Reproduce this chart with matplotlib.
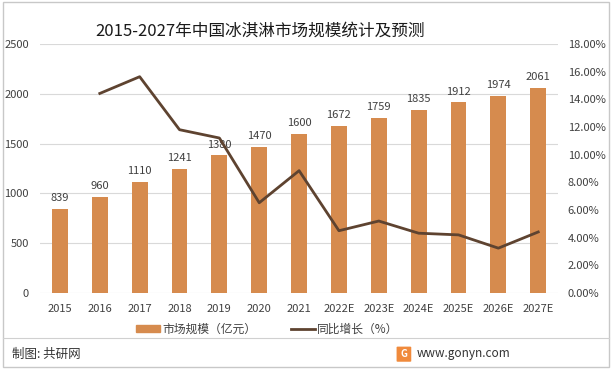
import matplotlib.pyplot as plt
from matplotlib.patches import Rectangle, FancyBboxPatch
from matplotlib.lines import Line2D
from matplotlib.ticker import FuncFormatter

plt.rcParams['font.family'] = ['Noto Sans CJK SC', 'DejaVu Sans']

years = ['2015', '2016', '2017', '2018', '2019', '2020', '2021',
         '2022E', '2023E', '2024E', '2025E', '2026E', '2027E']
market_size = [839, 960, 1110, 1241, 1380, 1470, 1600, 1672, 1759, 1835, 1912, 1974, 2061]
growth_years = years[1:]
growth_pct = [14.42, 15.63, 11.80, 11.20, 6.52, 8.84, 4.50, 5.20, 4.32, 4.20, 3.24, 4.41]

bar_color = '#D68B4E'
line_color = '#5E4330'
grid_color = '#D9D9D9'
text_color = '#404040'

fig = plt.figure(figsize=(6.12, 3.69), dpi=100)
ax = fig.add_axes([0.0654, 0.206, 0.8466, 0.675])

x = list(range(len(years)))
bars = ax.bar(x, market_size, width=0.4, color=bar_color, zorder=2)
for xi, v in zip(x, market_size):
    ax.text(xi, v + 60, str(v), ha='center', va='bottom', fontsize=8, color=text_color)

ax.set_xlim(-0.5, len(years) - 0.5)
ax.set_ylim(0, 2500)
ax.set_yticks(range(0, 2501, 500))
ax.set_xticks(x)
ax.set_xticklabels(years)
ax.grid(axis='y', color=grid_color, linewidth=0.8, zorder=0)
for s in ax.spines.values():
    s.set_visible(False)
ax.tick_params(axis='both', length=0, labelsize=8, colors=text_color)
ax.tick_params(axis='y', pad=8)
ax.tick_params(axis='x', pad=8)

ax2 = ax.twinx()
ax2.plot(x[1:], growth_pct, color=line_color, linewidth=2, zorder=3)
ax2.set_ylim(0, 18)
ax2.set_yticks(range(0, 19, 2))
ax2.yaxis.set_major_formatter(FuncFormatter(lambda v, p: f'{v:.2f}%'))
for s in ax2.spines.values():
    s.set_visible(False)
ax2.tick_params(axis='y', length=0, labelsize=8, colors=text_color, pad=7)

fig.text(0.425, 0.915, '2015-2027年中国冰淇淋市场规模统计及预测', ha='center', va='center',
         fontsize=12, color='#1a1a1a')

handles = [Rectangle((0, 0), 1, 1, color=bar_color),
           Line2D([0], [0], color=line_color, linewidth=2)]
fig.legend(handles, ['市场规模（亿元）', '同比增长（%）'], loc='center',
           bbox_to_anchor=(0.437, 0.108), ncol=2, frameon=False, fontsize=8.5,
           handlelength=2.0, handleheight=0.6, columnspacing=3, handletextpad=0.2,
           labelcolor=text_color)

# frame and footer
fig.patches.append(Rectangle((0.005, 0.005), 0.99, 0.99, transform=fig.transFigure,
                             fill=False, edgecolor='#C8C8C8', linewidth=1))
fig.lines.append(Line2D([0.005, 0.995], [1 - 338 / 369] * 2, transform=fig.transFigure,
                        color='#D0D0D0', linewidth=0.8))
fig.text(0.02, 1 - 354 / 369, '制图: 共研网', ha='left', va='center', fontsize=9, color='#333333')
fig.patches.append(FancyBboxPatch((0.650, 1 - 361 / 369), 0.02, 0.037,
                                  boxstyle='round,pad=0.002', transform=fig.transFigure,
                                  facecolor='#F08A3C', edgecolor='none'))
fig.text(0.660, 1 - 354 / 369, 'G', ha='center', va='center', fontsize=7, color='white',
         fontweight='bold')
fig.text(0.757, 1 - 354 / 369, 'www.gonyn.com', ha='center', va='center', fontsize=8.5,
         color='#333333')

fig.savefig('out.png', dpi=100)
